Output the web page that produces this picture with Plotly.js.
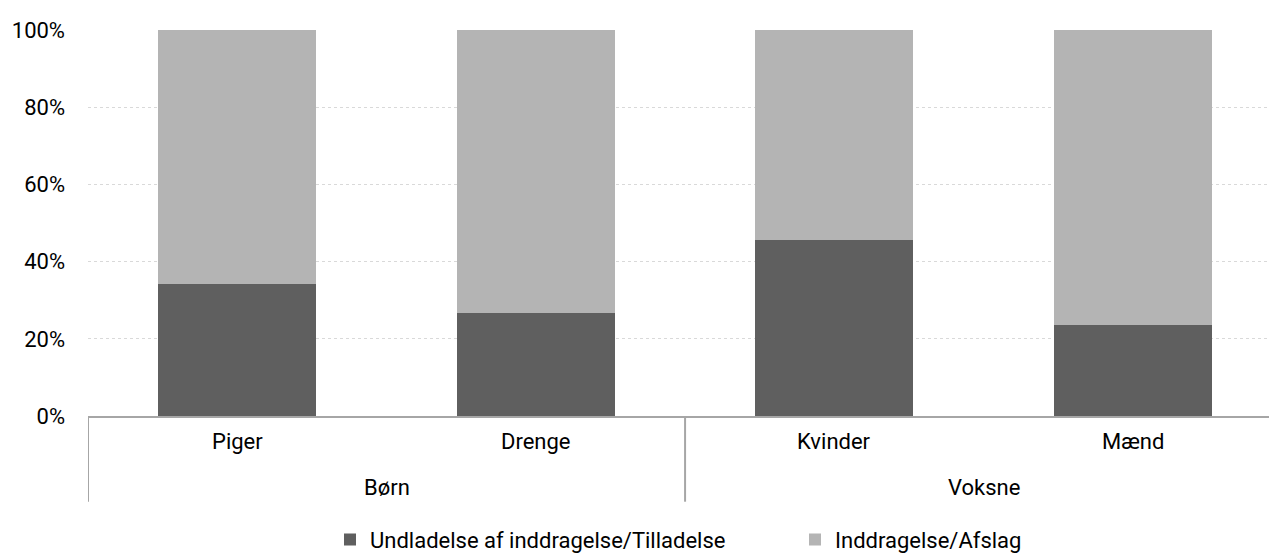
<!DOCTYPE html>
<html>
<head>
<meta charset="utf-8">
<script src="https://cdn.plot.ly/plotly-3.0.1.min.js"></script>
<style>html,body{margin:0;padding:0;background:#fff;}#chart{width:1269px;height:553px;}</style>
</head>
<body>
<div id="chart"></div>
<script>
const groups = ["Børn", "Børn", "Voksne", "Voksne"];
const categories = ["Piger", "Drenge", "Kvinder", "Mænd"];
const seriesNames = ["Undladelse af inddragelse/Tilladelse", "Inddragelse/Afslag"];
const undladelse = [34.2, 26.7, 45.6, 23.6];
const inddragelse = [65.8, 73.3, 54.4, 76.4];
const yTicks = [0, 20, 40, 60, 80, 100];
const colors = ["#5f5f5f", "#b4b4b4"];

const fontFam = "Roboto, 'DejaVu Sans', sans-serif";
const FS = 22;
const traces = [undladelse, inddragelse].map((vals, i) => ({
  type: "bar",
  name: seriesNames[i],
  x: categories,
  y: vals,
  width: 0.53,
  marker: { color: colors[i], line: { width: 0 } },
  hoverinfo: "skip"
}));

// group labels and dividers derived from groups array
const annotations = [];
const shapes = [];
categories.forEach((c, i) => {
  annotations.push({ x: c, xref: "x", y: -0.066, yref: "paper", text: c, showarrow: false,
    xanchor: "center", yanchor: "middle", font: { size: FS, family: fontFam, color: "#000" } });
});
const uniq = [...new Set(groups)];
uniq.forEach(g => {
  const idx = groups.map((v, i) => v === g ? i : -1).filter(i => i >= 0);
  const first = idx[0], last = idx[idx.length - 1];
  annotations.push({ x: (first + last) / 2, xref: "x", y: -0.185, yref: "paper", text: g, showarrow: false,
    xanchor: "center", yanchor: "middle", font: { size: FS, family: fontFam, color: "#000" } });
  shapes.push({ type: "line", xref: "x", yref: "paper", x0: first - 0.5, x1: first - 0.5, y0: 0, y1: -0.222,
    line: { color: "#a6a6a6", width: 2 } });
});

const layout = {
  width: 1269, height: 553,
  barmode: "stack",
  margin: { l: 88, r: 0, t: 30, b: 137, pad: 0 },
  paper_bgcolor: "#fff", plot_bgcolor: "#fff",
  font: { family: fontFam, size: FS, color: "#000" },
  xaxis: {
    type: "category",
    range: [-0.5, 3.456],
    showline: true, linecolor: "#a6a6a6", linewidth: 2,
    showgrid: false, ticks: "", showticklabels: false
  },
  yaxis: {
    range: [0, 100],
    tickvals: yTicks,
    ticktext: yTicks.map(v => v + "%"),
    showgrid: true, gridcolor: "#d9d9d9", griddash: "dot", gridwidth: 1,
    zeroline: false, showline: false, ticks: "",
    ticklabelstandoff: 22,
    tickfont: { size: FS, family: fontFam, color: "#000" }
  },
  annotations: annotations,
  shapes: shapes,
  showlegend: true,
  legend: {
    orientation: "h", xref: "container", yref: "container",
    x: 330 / 1269, xanchor: "left", y: 0.024, yanchor: "middle",
    font: { size: FS, family: fontFam, color: "#000" },
    entrywidth: 420, entrywidthmode: "pixels",
    traceorder: "normal"
  }
};

Plotly.newPlot("chart", traces, layout, { staticPlot: true });
</script>
</body>
</html>
